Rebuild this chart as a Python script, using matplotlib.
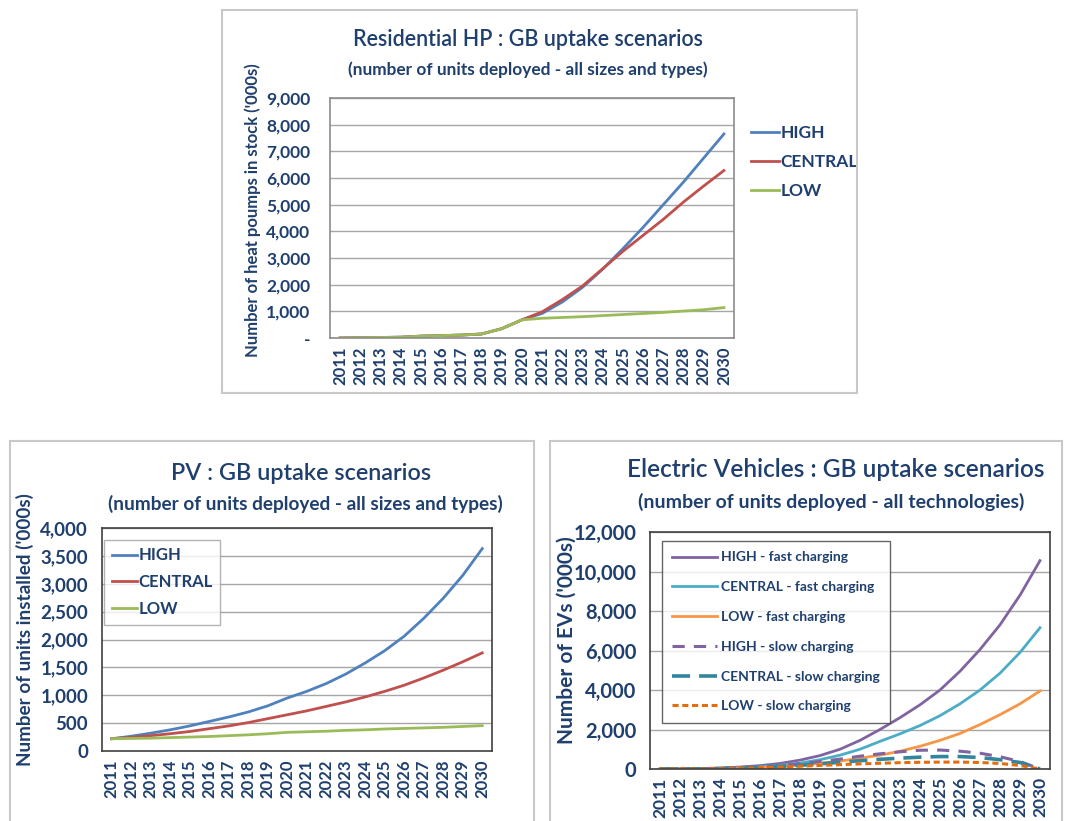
import matplotlib
matplotlib.use("Agg")
import matplotlib.pyplot as plt
from matplotlib.patches import Rectangle
from matplotlib.ticker import FuncFormatter

plt.rcParams['font.family'] = ['Lato', 'DejaVu Sans']

W, H = 1066, 821

years = list(range(2011, 2031))
year_labels = [str(y) for y in years]

# Residential heat pumps ('000s)
hp_high = [0, 10, 20, 30, 70, 90, 110, 150, 350, 680, 920, 1350, 1900, 2580, 3350, 4150, 5000, 5850, 6750, 7650]
hp_central = [0, 10, 20, 30, 70, 90, 110, 150, 350, 680, 980, 1440, 1950, 2600, 3250, 3850, 4450, 5100, 5700, 6280]
hp_low = [0, 10, 20, 30, 70, 90, 110, 150, 350, 680, 740, 770, 800, 840, 880, 920, 960, 1010, 1060, 1140]

# PV installations ('000s)
pv_high = [220, 265, 320, 380, 450, 530, 610, 700, 810, 950, 1070, 1210, 1380, 1580, 1800, 2060, 2380, 2740, 3150, 3630]
pv_central = [220, 245, 275, 310, 350, 400, 450, 510, 580, 650, 720, 800, 880, 970, 1070, 1180, 1310, 1450, 1600, 1760]
pv_low = [220, 225, 230, 240, 250, 260, 275, 290, 310, 335, 345, 355, 370, 380, 395, 405, 415, 425, 440, 455]

# Electric vehicles ('000s)
ev_high_fast = [5, 10, 20, 50, 100, 170, 280, 450, 680, 1000, 1450, 2000, 2600, 3250, 4000, 4950, 6050, 7300, 8800, 10550]
ev_central_fast = [0, 5, 15, 30, 60, 110, 190, 300, 470, 700, 1000, 1400, 1780, 2200, 2700, 3300, 4000, 4850, 5900, 7150]
ev_low_fast = [0, 5, 10, 20, 45, 80, 130, 200, 290, 400, 550, 700, 900, 1150, 1450, 1800, 2250, 2750, 3300, 3950]
ev_high_slow = [0, 5, 10, 30, 60, 100, 170, 260, 380, 500, 650, 770, 870, 950, 960, 900, 800, 620, 380, 0]
ev_central_slow = [0, 3, 8, 20, 45, 80, 130, 190, 260, 340, 420, 490, 550, 600, 630, 630, 580, 470, 330, 0]
ev_low_slow = [0, 2, 5, 15, 35, 60, 100, 140, 180, 220, 260, 290, 320, 340, 350, 350, 330, 280, 180, 0]

BLUE, RED, GREEN = '#4F81BD', '#C0504D', '#9BBB59'
PURPLE, TEAL, ORANGE = '#8064A2', '#4BACC6', '#F79646'
NAVY = '#1F3F6E'
GRID = '#A6A6A6'
LW = 2.0

fig = plt.figure(figsize=(W / 100, H / 100), dpi=100)
fig.patch.set_facecolor('white')


def fx(x):
    return x / W


def fy(y):
    return 1 - y / H


def add_axes_px(left, top, right, bottom):
    return fig.add_axes([fx(left), fy(bottom), (right - left) / W, (bottom - top) / H])


def panel_box(left, top, right, bottom):
    fig.patches.append(Rectangle((fx(left), fy(bottom)), (right - left) / W, (bottom - top) / H,
                                 transform=fig.transFigure, fill=False, edgecolor='#C8C8C8',
                                 linewidth=1.5, zorder=0))


def style_axes(ax, ymax, ystep, spine_color, ytick_size, xtick_size, ypad, zero_dash=False):
    ax.set_xlim(-0.5, len(years) - 0.5)
    ax.set_ylim(0, ymax)
    ax.set_yticks(range(0, ymax + 1, ystep))
    if zero_dash:
        ax.yaxis.set_major_formatter(FuncFormatter(lambda v, p: '-' if v == 0 else f'{int(v):,}'))
    else:
        ax.yaxis.set_major_formatter(FuncFormatter(lambda v, p: f'{int(v):,}'))
    ax.set_xticks(range(len(years)))
    ax.set_xticklabels(year_labels, rotation=90)
    ax.tick_params(axis='both', length=0, colors=NAVY)
    ax.tick_params(axis='y', labelsize=ytick_size, pad=ypad)
    ax.tick_params(axis='x', labelsize=xtick_size, pad=6)
    for lab in ax.get_xticklabels() + ax.get_yticklabels():
        lab.set_fontweight('bold')
        lab.set_color(NAVY)
    ax.grid(axis='y', color=GRID, linewidth=1.0)
    ax.set_axisbelow(True)
    for s in ax.spines.values():
        s.set_color(spine_color)
        s.set_linewidth(1.2)


def navy_bold_legend(leg):
    for t in leg.get_texts():
        t.set_color(NAVY)
        t.set_fontweight('bold')


x = list(range(len(years)))

# ---------------- Residential HP ----------------
panel_box(222, 10, 857, 393)
ax1 = add_axes_px(330, 98, 734, 338)
ax1.plot(x, hp_high, color=BLUE, lw=LW, label='HIGH')
ax1.plot(x, hp_central, color=RED, lw=LW, label='CENTRAL')
ax1.plot(x, hp_low, color=GREEN, lw=LW, label='LOW')
style_axes(ax1, 9000, 1000, '#8C8C8C', 12.5, 12, 14, zero_dash=True)
fig.text(fx(528), fy(40), 'Residential HP : GB uptake scenarios', ha='center', va='center',
         fontsize=15.5, color=NAVY, fontweight='semibold')
fig.text(fx(528), fy(70), '(number of units deployed - all sizes and types)', ha='center', va='center',
         fontsize=12.4, color=NAVY, fontweight='bold')
fig.text(fx(253), fy(210), "Number of heat poumps in stock ('000s)", rotation=90, ha='center', va='center',
         fontsize=12, color=NAVY, fontweight='bold')
leg1 = ax1.legend(loc='upper left', bbox_to_anchor=((744 - 330) / 404, 1 - (118 - 98) / 240),
                  frameon=False, fontsize=12.5, handlelength=1.6, handletextpad=0.1,
                  labelspacing=0.75, borderaxespad=0)
navy_bold_legend(leg1)

# ---------------- PV ----------------
panel_box(10, 441, 534, 830)
ax2 = add_axes_px(102, 528, 492, 751)
ax2.plot(x, pv_high, color=BLUE, lw=LW, label='HIGH')
ax2.plot(x, pv_central, color=RED, lw=LW, label='CENTRAL')
ax2.plot(x, pv_low, color=GREEN, lw=LW, label='LOW')
style_axes(ax2, 4000, 500, '#404040', 13.5, 12, 10)
fig.text(fx(301), fy(473), 'PV : GB uptake scenarios', ha='center', va='center',
         fontsize=16.8, color=NAVY, fontweight='semibold')
fig.text(fx(305), fy(504), '(number of units deployed - all sizes and types)', ha='center', va='center',
         fontsize=13.7, color=NAVY, fontweight='bold')
fig.text(fx(25), fy(630), "Number of units installed ('000s)", rotation=90, ha='center', va='center',
         fontsize=13.6, color=NAVY, fontweight='bold')
leg2 = ax2.legend(loc='upper left', bbox_to_anchor=((104 - 102) / 390, 1 - (540 - 528) / 223),
                  frameon=True, fancybox=False, fontsize=12, handlelength=1.5, handletextpad=0.1,
                  labelspacing=0.65, borderaxespad=0, borderpad=0.45)
leg2.get_frame().set_edgecolor('#A0A0A0')
leg2.get_frame().set_linewidth(1.0)
navy_bold_legend(leg2)

# ---------------- Electric vehicles ----------------
panel_box(550, 441, 1062, 830)
ax3 = add_axes_px(650, 532, 1050, 769)
ax3.plot(x, ev_high_fast, color=PURPLE, lw=LW, label='HIGH - fast charging')
ax3.plot(x, ev_central_fast, color=TEAL, lw=LW, label='CENTRAL - fast charging')
ax3.plot(x, ev_low_fast, color=ORANGE, lw=LW, label='LOW - fast charging')
ax3.plot(x, ev_high_slow, color=PURPLE, lw=2.2, ls=(0, (4, 3)), label='HIGH - slow charging')
ax3.plot(x, ev_central_slow, color='#31859C', lw=2.6, ls=(0, (5, 2.5)), label='CENTRAL - slow charging')
ax3.plot(x, ev_low_slow, color='#E46C0A', lw=2.2, ls=(0, (2, 1.2)), label='LOW - slow charging')
style_axes(ax3, 12000, 2000, '#404040', 14.5, 12.5, 10)
fig.text(fx(836), fy(469), 'Electric Vehicles : GB uptake scenarios', ha='center', va='center',
         fontsize=17.6, color=NAVY, fontweight='semibold')
fig.text(fx(831), fy(502), '(number of units deployed - all technologies)', ha='center', va='center',
         fontsize=14, color=NAVY, fontweight='bold')
fig.text(fx(567), fy(640), "Number of EVs ('000s)", rotation=90, ha='center', va='center',
         fontsize=15, color=NAVY, fontweight='bold')
leg3 = ax3.legend(loc='upper left', bbox_to_anchor=((662 - 650) / 400, 1 - (541 - 532) / 237),
                  frameon=True, fancybox=False, fontsize=10, handlelength=3.2, handletextpad=0.3,
                  labelspacing=1.28, borderaxespad=0, borderpad=0.75)
leg3.get_frame().set_edgecolor('#404040')
leg3.get_frame().set_linewidth(1.0)
navy_bold_legend(leg3)

fig.savefig('out.png', dpi=100, facecolor='white')
